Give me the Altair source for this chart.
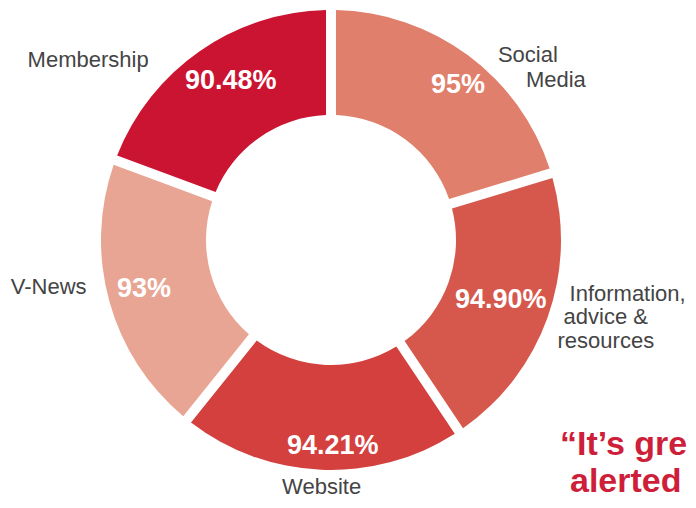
import json
import altair as alt
import pandas as pd

# ---- data ----
categories = ["Social Media", "Information, advice & resources", "Website", "V-News", "Membership"]
values = [95, 94.90, 94.21, 93, 90.48]
pct_labels = ["95%", "94.90%", "94.21%", "93%", "90.48%"]
name_lines = [["Social", "Media"], ["Information,", "advice &", "resources"], ["Website"], ["V-News"], ["Membership"]]
quote_lines = ["\u201cIt\u2019s gre", "alerted"]

# ---- styles ----
colors = ["#E07F6C", "#D6584C", "#D3403D", "#E8A593", "#CB1431"]
FONT = "Liberation Sans"
CX, CY = 323, 232
R_PCT, R_NAME = 193, 265

pct_style = {  # dx, dy
    0: (12, 8), 1: (-12, 3), 2: (10, 21), 3: (-1, 6), 4: (10, 7),
}
name_style = {  # (cat idx, line idx): align, dx, dy
    (0, 0): ("left", 9, 35), (0, 1): ("left", 37, 60),
    (1, 0): ("left", -11, -28), (1, 1): ("left", -17, -5), (1, 2): ("left", -23, 19),
    (2, 0): ("center", 2, -11),
    (3, 0): ("right", 11, -17),
    (4, 0): ("right", -31, 45),
}
quote_pos = [(552, 447), (562, 484)]

df = pd.DataFrame({"cat": categories, "value": values, "idx": list(range(len(categories)))})

theta = alt.Theta("value:Q", stack=True)
order = alt.Order("idx:Q")

arcs = alt.Chart(df).mark_arc(innerRadius=125, outerRadius=230, padAngle=0.038).encode(
    theta=theta,
    order=order,
    color=alt.Color("cat:N", scale=alt.Scale(domain=categories, range=colors), legend=None),
    x=alt.value(CX),
    y=alt.value(CY),
)


def label_layer(cat, text, r, dx, dy, align, size, weight, color):
    expr = f"datum.cat === {json.dumps(cat)} ? {json.dumps(text)} : ''"
    return alt.Chart(df).transform_calculate(lbl=expr).mark_text(
        radius=r, align=align, baseline="alphabetic", dx=dx, dy=dy,
        fontSize=size, fontWeight=weight, color=color, font=FONT,
    ).encode(
        theta=theta,
        order=order,
        x=alt.value(CX),
        y=alt.value(CY),
        text="lbl:N",
    )


layers = [arcs]
for i, cat in enumerate(categories):
    dx, dy = pct_style[i]
    layers.append(label_layer(cat, pct_labels[i], R_PCT, dx, dy, "center", 27, "bold", "white"))
    for j, line in enumerate(name_lines[i]):
        align, dx, dy = name_style[(i, j)]
        layers.append(label_layer(cat, line, R_NAME, dx, dy, align, 22, "normal", "#444444"))

for line, (qx, qy) in zip(quote_lines, quote_pos):
    layers.append(
        alt.Chart(alt.Data(values=[{"t": line}])).mark_text(
            align="left", baseline="alphabetic", fontSize=34, fontWeight="bold",
            color="#CE1F3A", font=FONT,
        ).encode(x=alt.value(qx), y=alt.value(qy), text="t:N")
    )

chart = alt.layer(*layers).properties(
    width=680, height=492, padding=0,
    autosize=alt.AutoSizeParams(type="none"),
).configure_view(strokeWidth=0)

chart.save("out.html", embed_options={"renderer": "svg", "actions": False})
